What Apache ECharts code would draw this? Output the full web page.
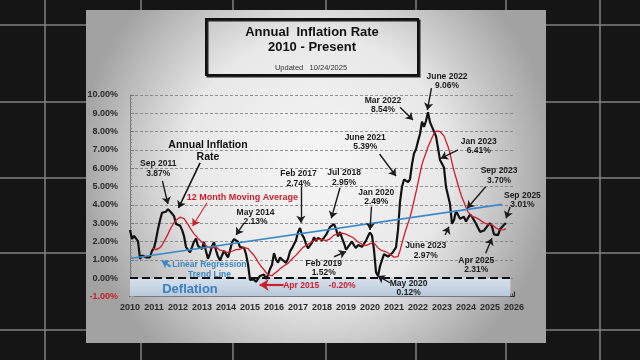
<!DOCTYPE html>
<html><head><meta charset="utf-8">
<script src="https://cdn.jsdelivr.net/npm/echarts@6/dist/echarts.min.js"></script>
<style>html,body{margin:0;padding:0;background:#151515;}#c{width:640px;height:360px;}</style>
</head><body><div id="c"></div>
<script>
// ---- Data: annual inflation rate (%) by month, Jan..Dec ----
const years = [2010,2011,2012,2013,2014,2015,2016,2017,2018,2019,2020,2021,2022,2023,2024,2025];
const infl2010 = [2.63,2.14,2.31,2.24,2.02,1.05,1.24,1.15,1.14,1.17,1.14,1.50];
const infl2011 = [1.63,2.11,2.68,3.16,3.57,3.56,3.63,3.77,3.87,3.53,3.39,2.96];
const infl2012 = [2.93,2.87,2.65,2.30,1.70,1.66,1.41,1.69,1.99,2.16,1.76,1.74];
const infl2013 = [1.59,1.98,1.47,1.06,1.36,1.75,1.96,1.52,1.18,0.96,1.24,1.50];
const infl2014 = [1.58,1.13,1.51,1.95,2.13,2.07,1.99,1.70,1.66,1.66,1.32,0.76];
const infl2015 = [-0.09,-0.03,-0.07,-0.20,-0.04,0.12,0.17,0.20,-0.04,0.17,0.50,0.73];
const infl2016 = [1.37,1.02,0.85,1.13,1.02,1.01,0.84,1.06,1.46,1.64,1.69,2.07];
const infl2017 = [2.50,2.74,2.38,2.20,1.87,1.63,1.73,1.94,2.23,2.04,2.20,2.11];
const infl2018 = [2.07,2.21,2.36,2.46,2.80,2.87,2.95,2.70,2.28,2.52,2.18,1.91];
const infl2019 = [1.55,1.52,1.86,2.00,1.79,1.65,1.81,1.75,1.71,1.76,2.05,2.29];
const infl2020 = [2.49,2.33,1.54,0.33,0.12,0.65,0.99,1.31,1.37,1.18,1.17,1.36];
const infl2021 = [1.40,1.68,2.62,4.16,4.99,5.39,5.37,5.25,5.39,6.22,6.81,7.04];
const infl2022 = [7.48,7.87,8.54,8.26,8.58,9.06,8.52,8.26,8.20,7.75,7.11,6.45];
const infl2023 = [6.41,6.04,4.98,4.93,4.05,2.97,3.18,3.67,3.70,3.24,3.14,3.35];
const infl2024 = [3.09,3.15,3.48,3.36,3.27,2.97,2.89,2.53,2.44,2.60,2.75,2.89];
const infl2025 = [3.00,2.82,2.39,2.31,2.35,2.67,2.70,2.92,3.01];

// ---- 12 month moving average (%) by month ----
const ma2010 = [null,null,null,null,null,null,null,null,null,null,null,1.64];
const ma2011 = [1.56,1.56,1.59,1.67,1.80,2.00,2.20,2.42,2.65,2.85,3.03,3.16];
const ma2012 = [3.26,3.33,3.32,3.25,3.10,2.94,2.75,2.58,2.42,2.31,2.17,2.07];
const ma2013 = [1.96,1.89,1.79,1.68,1.66,1.66,1.71,1.70,1.63,1.53,1.48,1.46];
const ma2014 = [1.46,1.39,1.40,1.47,1.53,1.56,1.56,1.58,1.62,1.68,1.68,1.62];
const ma2015 = [1.48,1.39,1.25,1.08,0.89,0.73,0.58,0.46,0.31,0.19,0.12,0.12];
const ma2016 = [0.24,0.33,0.40,0.52,0.60,0.68,0.73,0.81,0.93,1.05,1.15,1.26];
const ma2017 = [1.36,1.50,1.63,1.72,1.79,1.84,1.91,1.99,2.05,2.09,2.13,2.13];
const ma2018 = [2.10,2.05,2.05,2.07,2.15,2.25,2.35,2.42,2.42,2.46,2.46,2.44];
const ma2019 = [2.40,2.34,2.30,2.26,2.18,2.08,1.98,1.90,1.85,1.79,1.78,1.81];
const ma2020 = [1.89,1.96,1.93,1.79,1.65,1.57,1.50,1.46,1.44,1.39,1.31,1.24];
const ma2021 = [1.15,1.09,1.18,1.50,1.91,2.30,2.67,3.00,3.33,3.75,4.22,4.69];
const ma2022 = [5.20,5.72,6.21,6.55,6.85,7.16,7.42,7.67,7.90,8.03,8.06,8.01];
const ma2023 = [7.92,7.77,7.47,7.19,6.81,6.31,5.86,5.48,5.10,4.73,4.40,4.14];
const ma2024 = [3.86,3.62,3.50,3.37,3.30,3.30,3.28,3.18,3.08,3.02,2.99,2.95];
const ma2025 = [2.94,2.92,2.83,2.74,2.66,2.64,2.62,2.65,2.70];

// ---- Linear regression trend line endpoints [year, %] ----
const trendLine = [[2010.0, 1.07], [2025.5, 4.03]];

// ---- Axis ranges ----
const xRange = [2010, 2026];
const yRange = [-1, 10];

// ---- Annotations (data coordinates) ----
const annotations = [
  {text:'Sep 2011\n3.87%', at:[2011.18,5.99], from:[2011.35,5.31], to:[2011.58,4.05]},
  {text:'Annual Inflation\nRate', at:[2013.25,6.93], from:[2012.92,6.29], to:[2012.02,3.83], kind:'big'},
  {text:'12 Month Moving Average', at:[2014.68,4.42], from:[2013.21,4.12], to:[2012.61,2.85], kind:'red'},
  {text:'May 2014\n2.13%', at:[2015.23,3.34], from:[2014.75,3.01], to:[2014.42,2.36]},
  {text:'Feb 2017\n2.74%', at:[2017.02,5.43], from:[2017.12,4.99], to:[2017.12,3.03]},
  {text:'Jul 2018\n2.95%', at:[2018.92,5.48], from:[2018.75,4.94], to:[2018.39,3.27]},
  {text:'Feb 2019\n1.52%', at:[2018.07,0.56], from:[2018.50,1.17], to:[2019.0,1.45]},
  {text:'Jan 2020\n2.49%', at:[2020.26,4.42], from:[2020.06,3.90], to:[2020.0,2.63]},
  {text:'May 2020\n0.12%', at:[2021.61,-0.55], from:[2020.83,-0.25], to:[2020.32,0.12]},
  {text:'June 2021\n5.39%', at:[2019.80,7.42], from:[2020.40,6.78], to:[2021.08,5.58]},
  {text:'Mar 2022\n8.54%', at:[2020.54,9.45], from:[2021.25,9.33], to:[2021.79,8.64]},
  {text:'June 2022\n9.06%', at:[2023.21,10.75], from:[2022.56,10.37], to:[2022.39,9.18]},
  {text:'Jan 2023\n6.41%', at:[2024.53,7.21], from:[2023.67,7.00], to:[2022.95,6.54]},
  {text:'Sep 2023\n3.70%', at:[2025.38,5.59], from:[2024.82,4.99], to:[2024.05,3.82]},
  {text:'June 2023\n2.97%', at:[2022.32,1.51], from:[2023.13,2.36], to:[2023.29,2.81]},
  {text:'Apr 2025\n2.31%', at:[2024.43,0.72], from:[2024.82,1.36], to:[2025.08,2.18]},
  {text:'Sep 2025\n3.01%', at:[2026.35,4.26], from:[2025.84,3.90], to:[2025.67,3.27]},
  {text:'Linear Regression\nTrend Line', at:[2013.31,0.47], from:[2011.69,0.63], to:[2011.33,0.95], kind:'blue'},
  {text:'Apr 2015    -0.20%', at:[2017.89,-0.41], from:[2016.40,-0.37], to:[2015.40,-0.37], kind:'redBig'},
  {text:'Deflation', at:[2012.5,-0.59], kind:'defl'}
];

const FONT = 'Liberation Sans, Arial, sans-serif';
const inflByYear = [infl2010,infl2011,infl2012,infl2013,infl2014,infl2015,infl2016,infl2017,infl2018,infl2019,infl2020,infl2021,infl2022,infl2023,infl2024,infl2025];
const maByYear = [ma2010,ma2011,ma2012,ma2013,ma2014,ma2015,ma2016,ma2017,ma2018,ma2019,ma2020,ma2021,ma2022,ma2023,ma2024,ma2025];
const toPts = (list) => {
  const out = [];
  list.forEach((arr, k) => arr.forEach((v, i) => { if (v !== null) out.push([years[k] + i / 12, v]); }));
  return out;
};

const styles = {
  normal: {color:'#1c1c1c', size:8.5, arrow:'#1c1c1c', w:1.4},
  big: {color:'#111', size:10.5, arrow:'#111', w:1.6},
  red: {color:'#cc1f2a', size:9, arrow:'#cc1f2a', w:1.1},
  redBig: {color:'#cc1f2a', size:8.5, arrow:'#cc1f2a', w:2.2},
  blue: {color:'#3a86c6', size:8.5, arrow:'#3a86c6', w:2},
  defl: {color:'#3a7fc2', size:13}
};

const chart = echarts.init(document.getElementById('c'));
const option = {
  animation: false,
  backgroundColor: '#151515',
  textStyle: {fontFamily: FONT},
  grid: {left:130, right:126, top:95, bottom:63.5},
  xAxis: {
    type:'value', min:xRange[0], max:xRange[1], interval:1,
    axisLine:{show:true, onZero:false, lineStyle:{color:'#222', width:1.2}},
    axisTick:{show:true, inside:true, length:5, lineStyle:{color:'#222'}},
    minorTick:{show:true, splitNumber:12, length:3, lineStyle:{color:'#444'}},
    splitLine:{show:false},
    axisLabel:{formatter:v=>String(v), fontFamily:FONT, fontWeight:'bold', fontSize:9, color:'#2b2b2b', margin:7}
  },
  yAxis: {
    type:'value', min:yRange[0], max:yRange[1], interval:1,
    axisLine:{show:true, lineStyle:{color:'#777', width:1}},
    axisTick:{show:true, inside:true, length:4, lineStyle:{color:'#777'}},
    minorTick:{show:true, splitNumber:5, length:2, lineStyle:{color:'#888'}},
    splitLine:{show:true, lineStyle:{color:'#7a7a7a', type:[3,2], width:0.8}},
    axisLabel:{formatter:v=>v.toFixed(2)+'%', fontFamily:FONT, fontWeight:'bold', fontSize:9,
      color:v=>(Number(v)<0?'#c8202a':'#2b2b2b'), margin:12}
  },
  series: [
    {
      name:'Annual Inflation Rate', type:'line', data:toPts(inflByYear), symbol:'none', z:3,
      lineStyle:{color:'#111', width:2.2},
      markArea:{silent:true, itemStyle:{color:{type:'linear',x:0,y:0,x2:0,y2:1,colorStops:[{offset:0,color:'#d6e1ec'},{offset:1,color:'#b8c8d9'}]}},
        data:[[{xAxis:2010, yAxis:-1},{xAxis:2025.85, yAxis:0}]]},
      markLine:{silent:true, symbol:'none', label:{show:false}, lineStyle:{color:'#111', width:1.8, type:[8,4]},
        data:[{yAxis:0}]}
    },
    {
      name:'12 Month Moving Average', type:'line', data:toPts(maByYear), symbol:'none', z:4,
      lineStyle:{color:'#d01e28', width:1.3}
    },
    {
      name:'Linear Regression Trend Line', type:'line', data:trendLine, symbol:'none', z:5,
      lineStyle:{color:'#3a8ac9', width:1.6}
    },
    {
      name:'arrows', type:'lines', coordinateSystem:'cartesian2d', clip:false, z:6,
      symbol:['none','arrow'], symbolSize:7,
      data: annotations.filter(a=>a.from).map(a=>{
        const s = styles[a.kind||'normal'];
        return {coords:[a.from, a.to], lineStyle:{color:s.arrow, width:s.w, opacity:1}, symbolSize: a.kind==='redBig'?9:7};
      })
    }
  ]
};
chart.setOption(option);

// Decorative background, board and title box, plus annotation texts.
const gfx = [];
const bgV = [45,141,233,326,416,506,600];
const bgH = [25,102,178,253,330];
bgV.forEach(x=>gfx.push({type:'line', z:-30, shape:{x1:x,y1:0,x2:x,y2:360}, style:{stroke:'#808080', lineWidth:1.5}}));
bgH.forEach(y=>gfx.push({type:'line', z:-30, shape:{x1:0,y1:y,x2:640,y2:y}, style:{stroke:'#808080', lineWidth:1.5}}));
gfx.push({type:'rect', z:-20, shape:{x:86,y:10,width:460,height:333},
  style:{fill:{type:'radial',x:0.5,y:0.47,r:0.72,colorStops:[{offset:0,color:'#f6f6f6'},{offset:0.55,color:'#e8e8e8'},{offset:1,color:'#a2a2a2'}]}}});
gfx.push({type:'rect', z:-15, shape:{x:207.5,y:20.5,width:212,height:56}, style:{fill:'none', stroke:'#222', lineWidth:2}});
gfx.push({type:'rect', z:-14, shape:{x:206,y:19,width:212,height:56}, style:{fill:'none', stroke:'#111', lineWidth:2}});
gfx.push({type:'text', z:50, x:312, y:32, style:{text:'Annual  Inflation Rate', font:'bold 13px '+FONT, fill:'#111', align:'center', verticalAlign:'middle'}});
gfx.push({type:'text', z:50, x:312, y:47, style:{text:'2010 - Present', font:'bold 13px '+FONT, fill:'#111', align:'center', verticalAlign:'middle'}});
gfx.push({type:'text', z:50, x:311, y:68, style:{text:'Updated   10/24/2025', font:'7.5px '+FONT, fill:'#333', align:'center', verticalAlign:'middle'}});

annotations.forEach(a=>{
  const s = styles[a.kind||'normal'];
  const p = chart.convertToPixel({gridIndex:0}, a.at);
  gfx.push({type:'text', z:60, x:p[0], y:p[1], style:{text:a.text, font:'bold '+s.size+'px '+FONT, fill:s.color,
    align:'center', verticalAlign:'middle', lineHeight: s.size+1}});
});
chart.setOption({graphic: gfx});
</script>
</body></html>
